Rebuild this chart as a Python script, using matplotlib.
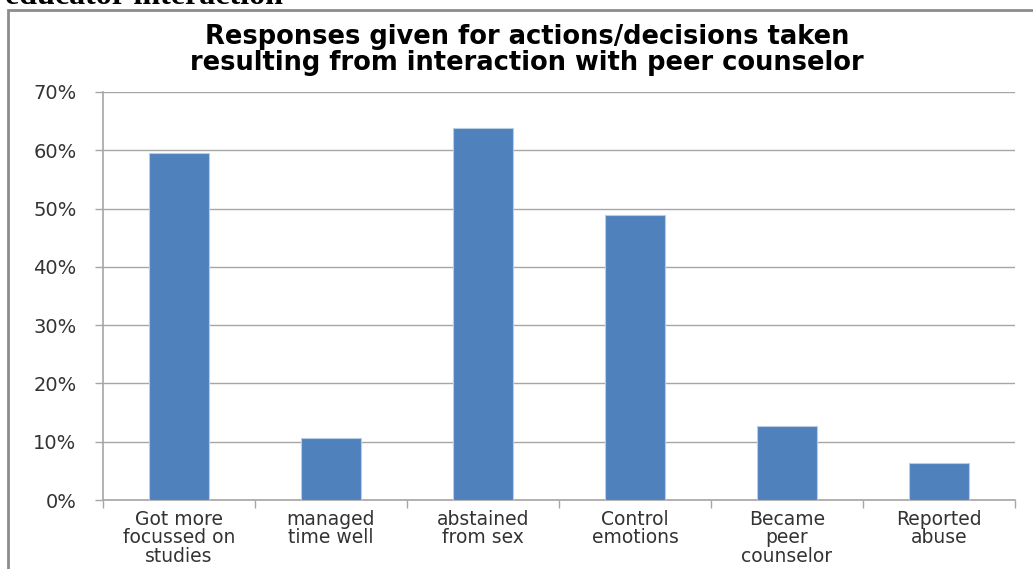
import numpy as np
import matplotlib.pyplot as plt
from matplotlib.patches import Rectangle
from matplotlib.ticker import FixedLocator, FuncFormatter

categories = [
    "Got more\nfocussed on\nstudies",
    "managed\ntime well",
    "abstained\nfrom sex",
    "Control\nemotions",
    "Became\npeer\ncounselor",
    "Reported\nabuse",
]
responses = [59.5, 10.6, 63.8, 48.9, 12.7, 6.3]
y_ticks = [0, 10, 20, 30, 40, 50, 60, 70]

bar_color = "#4f81bd"
grid_color = "#a6a6a6"
text_color = "#333333"

plt.rcParams["font.family"] = ["DejaVu Sans"]

fig = plt.figure(figsize=(10.33, 5.69), dpi=100)
fig.patch.set_facecolor("white")

# page text cut off above the chart frame
fig.text(5 / 1033, 1 - 4 / 569, "educator interaction", ha="left", va="baseline",
         family="Liberation Serif", fontweight="bold", fontsize=23, color="black")

# chart frame
fig.patches.append(Rectangle((8 / 1033, -0.05), 1.1, 1 - 10 / 569 + 0.05,
                             transform=fig.transFigure, fill=False,
                             edgecolor="#8c8c8c", linewidth=2))

ax = fig.add_axes([103 / 1033, 1 - 500 / 569, 912 / 1033, 408 / 569])
x = np.arange(len(categories))
ax.bar(x, responses, width=0.4, color=bar_color, edgecolor="#b9cde5",
       linewidth=0.8, zorder=3)

ax.set_xlim(-0.5, len(categories) - 0.5)
ax.set_ylim(0, 70)
ax.set_yticks(y_ticks)
ax.yaxis.set_major_formatter(FuncFormatter(lambda v, p: f"{v:.0f}%"))
ax.grid(axis="y", color=grid_color, linewidth=1, zorder=0)

ax.set_xticks(x)
ax.set_xticklabels(categories, linespacing=0.96)
ax.xaxis.set_minor_locator(FixedLocator(np.arange(-0.5, len(categories), 1.0)))
ax.tick_params(axis="x", which="major", length=0, pad=7, labelsize=13.5,
               labelcolor=text_color)
ax.tick_params(axis="x", which="minor", length=6, width=1, color=grid_color)
ax.tick_params(axis="y", length=6, width=1, color=grid_color, pad=13,
               labelsize=14, labelcolor=text_color)

for side in ["top", "right"]:
    ax.spines[side].set_visible(False)
for side in ["left", "bottom"]:
    ax.spines[side].set_color(grid_color)
    ax.spines[side].set_linewidth(1.2)

fig.text(527 / 1033, 1 - 50 / 569,
         "Responses given for actions/decisions taken\n"
         "resulting from interaction with peer counselor",
         ha="center", va="center", fontsize=18.5, fontweight="bold",
         linespacing=1.05, color="black")

fig.savefig("out.png", dpi=100)
